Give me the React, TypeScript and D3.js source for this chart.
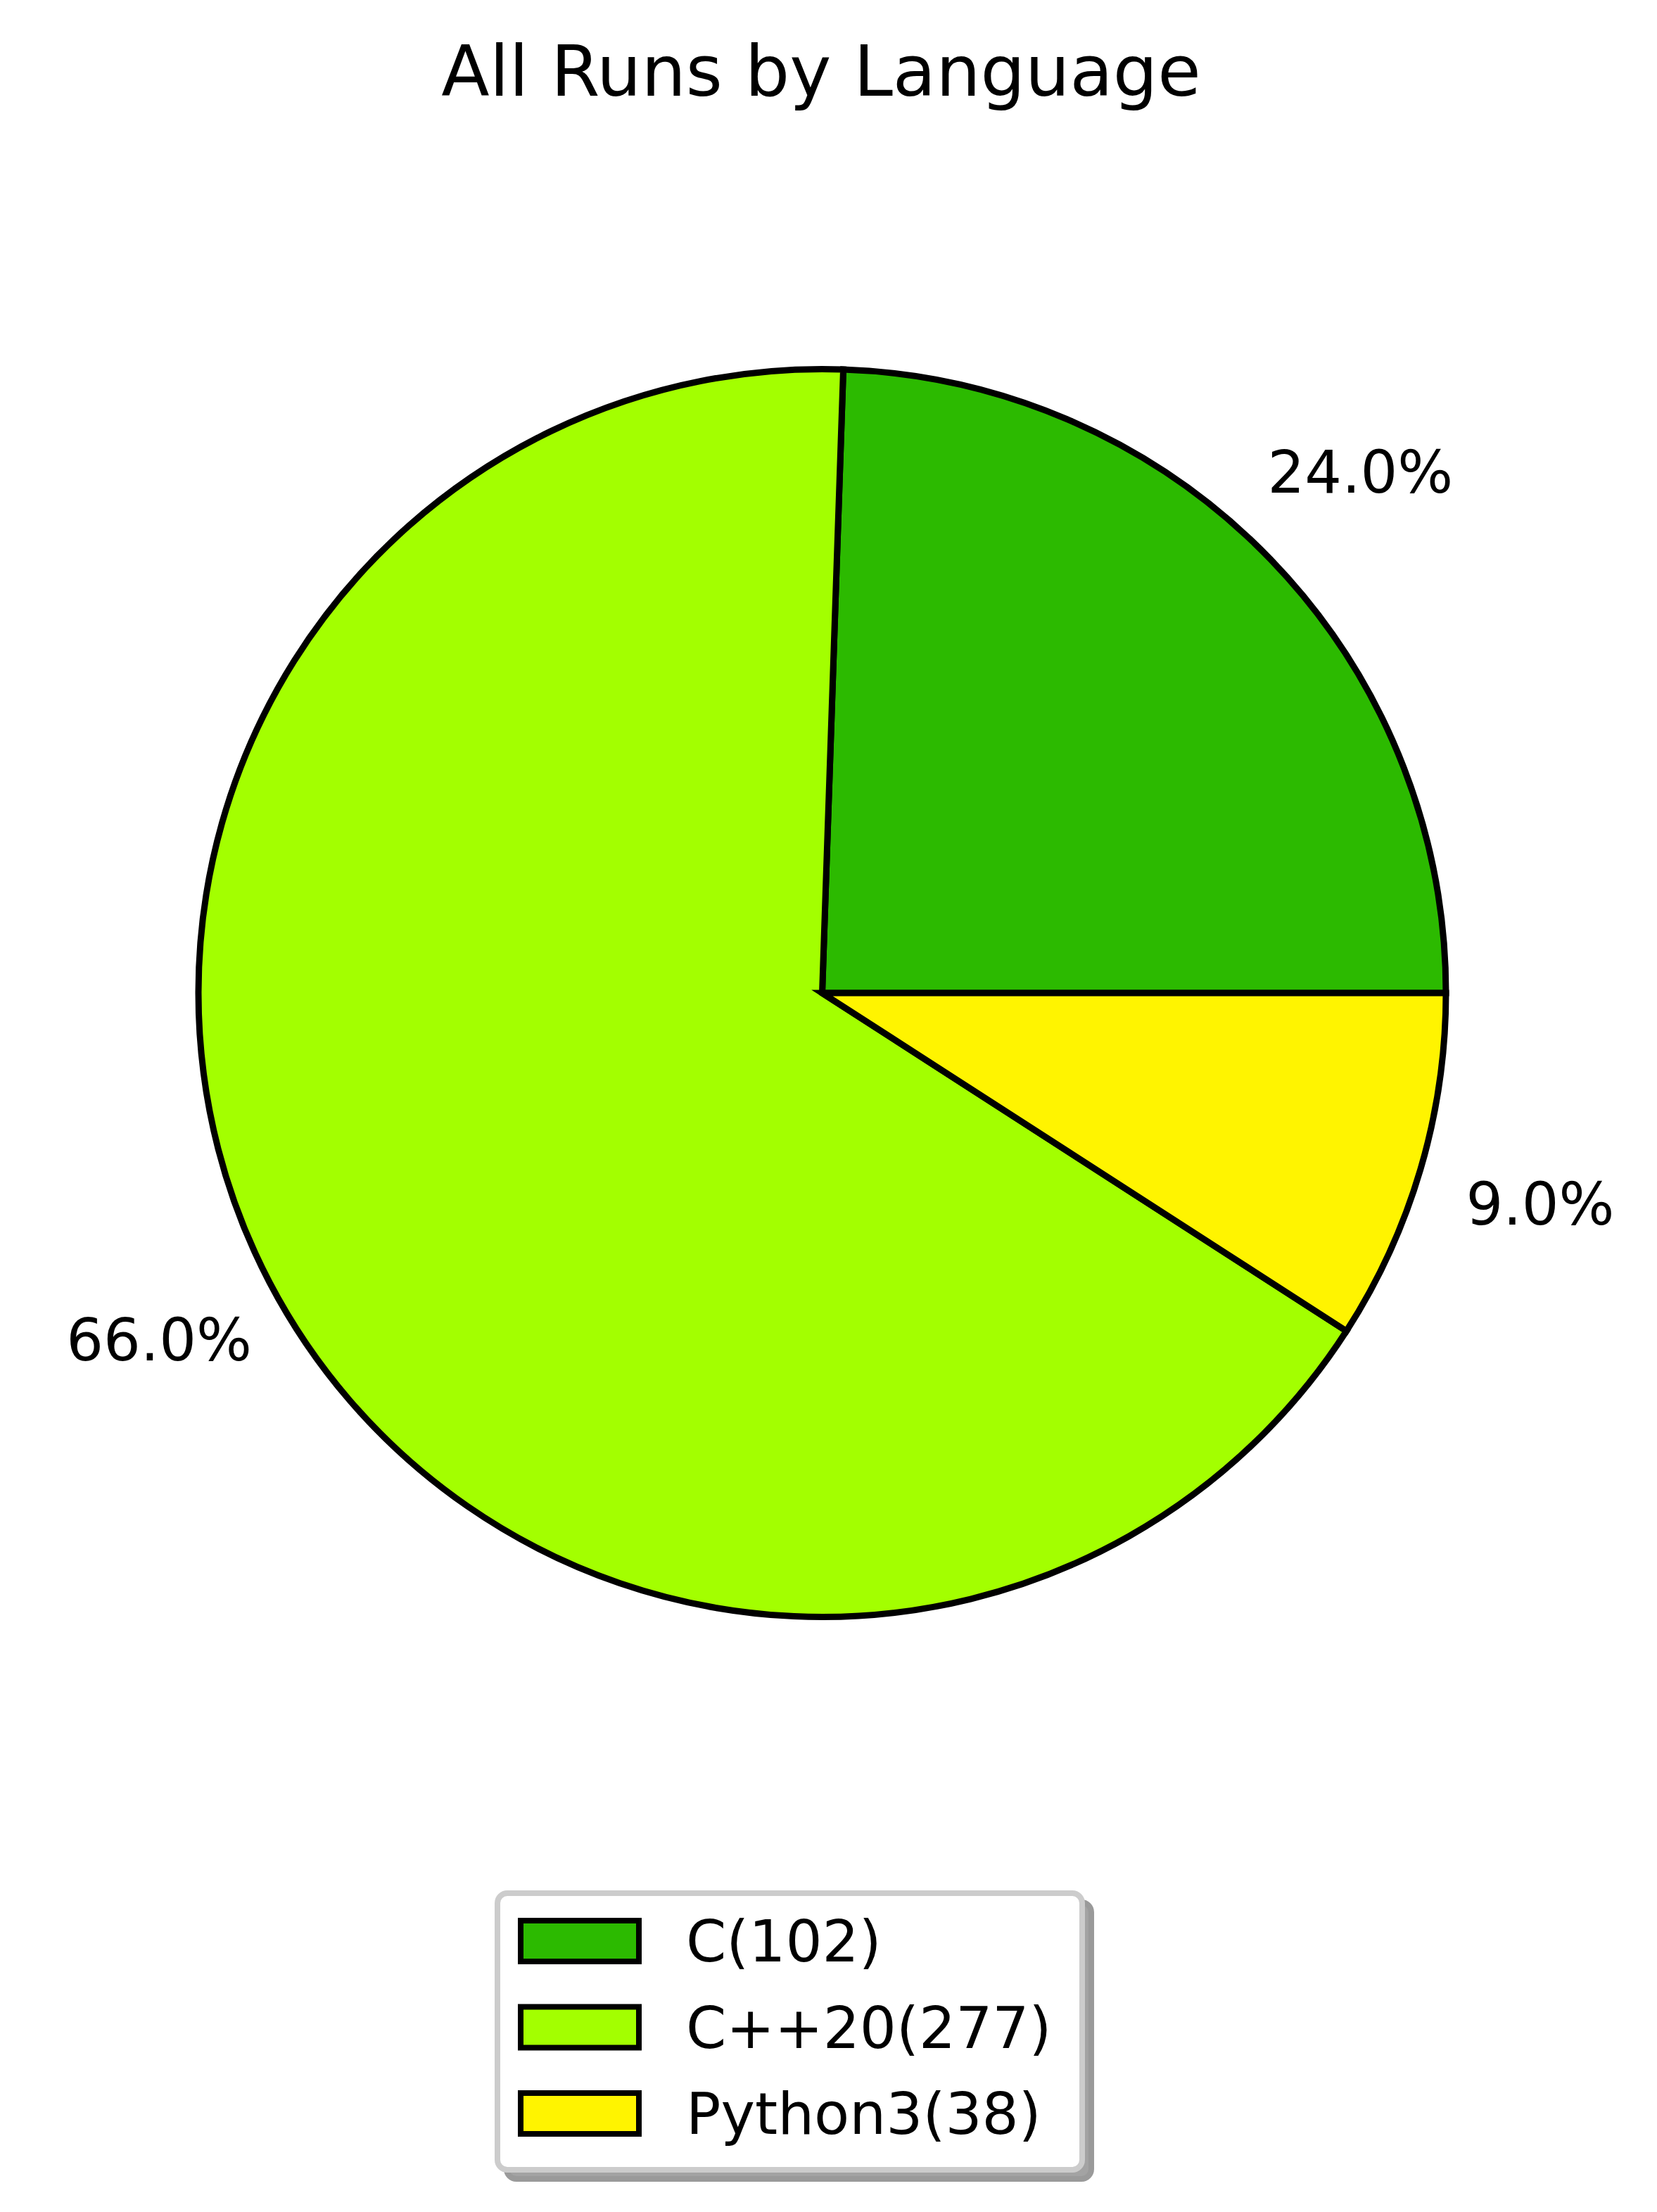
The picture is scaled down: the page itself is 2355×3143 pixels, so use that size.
import * as d3 from "d3";
import { FC } from "react";

// data
const languages = ["C", "C++20", "Python3"];
const runs = [102, 277, 38];
const pctLabels = ["24.0%", "66.0%", "9.0%"];
const colors = ["#2cba00", "#a3ff00", "#fff400"];
const title = "All Runs by Language";

const W = 2355;
const H = 3143;
const FONT = "DejaVu Sans, Verdana, sans-serif";

const App: FC = () => {
  const cx = 1168.5;
  const cy = 1411;
  const r = 886.5;

  // matplotlib style: start at 3 o'clock, go counter-clockwise
  const pie = d3
    .pie<number>()
    .sort(null)
    .startAngle(Math.PI / 2)
    .endAngle(Math.PI / 2 - 2 * Math.PI);
  const arcs = pie(runs);

  const arc = d3.arc<d3.PieArcDatum<number>>().innerRadius(0).outerRadius(r);
  const labelArc = d3
    .arc<d3.PieArcDatum<number>>()
    .innerRadius(r * 1.2)
    .outerRadius(r * 1.2);

  const color = d3.scaleOrdinal<string, string>().domain(languages).range(colors);

  // legend rows
  const rowY = d3
    .scalePoint<string>()
    .domain(languages)
    .range([2758, 3003]);

  const box = { x: 707, y: 2690, w: 831, h: 393 };

  return (
    <svg
      width={W}
      height={H}
      style={{ position: "absolute", left: 0, top: 0, background: "#fff" }}
      fontFamily={FONT}
    >
      <rect width={W} height={H} fill="#fff" />
      <text x={1167} y={136} fontSize={100} textAnchor="middle" fill="#000">
        {title}
      </text>

      <g transform={`translate(${cx},${cy})`}>
        {arcs.map((a, i) => (
          <path
            key={languages[i]}
            d={arc(a) ?? ""}
            fill={color(languages[i])}
            stroke="#000"
            strokeWidth={9}
            strokeLinejoin="miter"
          />
        ))}
        {arcs.map((a, i) => {
          const [lx, ly] = labelArc.centroid(a);
          return (
            <text
              key={"l" + i}
              x={lx}
              y={ly}
              fontSize={83}
              textAnchor="middle"
              dominantBaseline="central"
              fill="#000"
            >
              {pctLabels[i]}
            </text>
          );
        })}
      </g>

      {/* legend */}
      <rect
        x={box.x + 13}
        y={box.y + 13}
        width={box.w}
        height={box.h}
        rx={14}
        fill="#a3a3a3"
        stroke="#9a9a9a"
        strokeWidth={8}
      />
      <rect
        x={box.x}
        y={box.y}
        width={box.w}
        height={box.h}
        rx={14}
        fill="#fff"
        stroke="#cccccc"
        strokeWidth={8}
      />
      {languages.map((lang, i) => {
        const y = rowY(lang)!;
        return (
          <g key={"lg" + lang}>
            <rect
              x={740}
              y={y - 29}
              width={168}
              height={58}
              fill={color(lang)}
              stroke="#000"
              strokeWidth={8}
            />
            <text x={975} y={y + 29} fontSize={82} fill="#000">
              {`${lang}(${runs[i]})`}
            </text>
          </g>
        );
      })}
    </svg>
  );
};

export default App;
